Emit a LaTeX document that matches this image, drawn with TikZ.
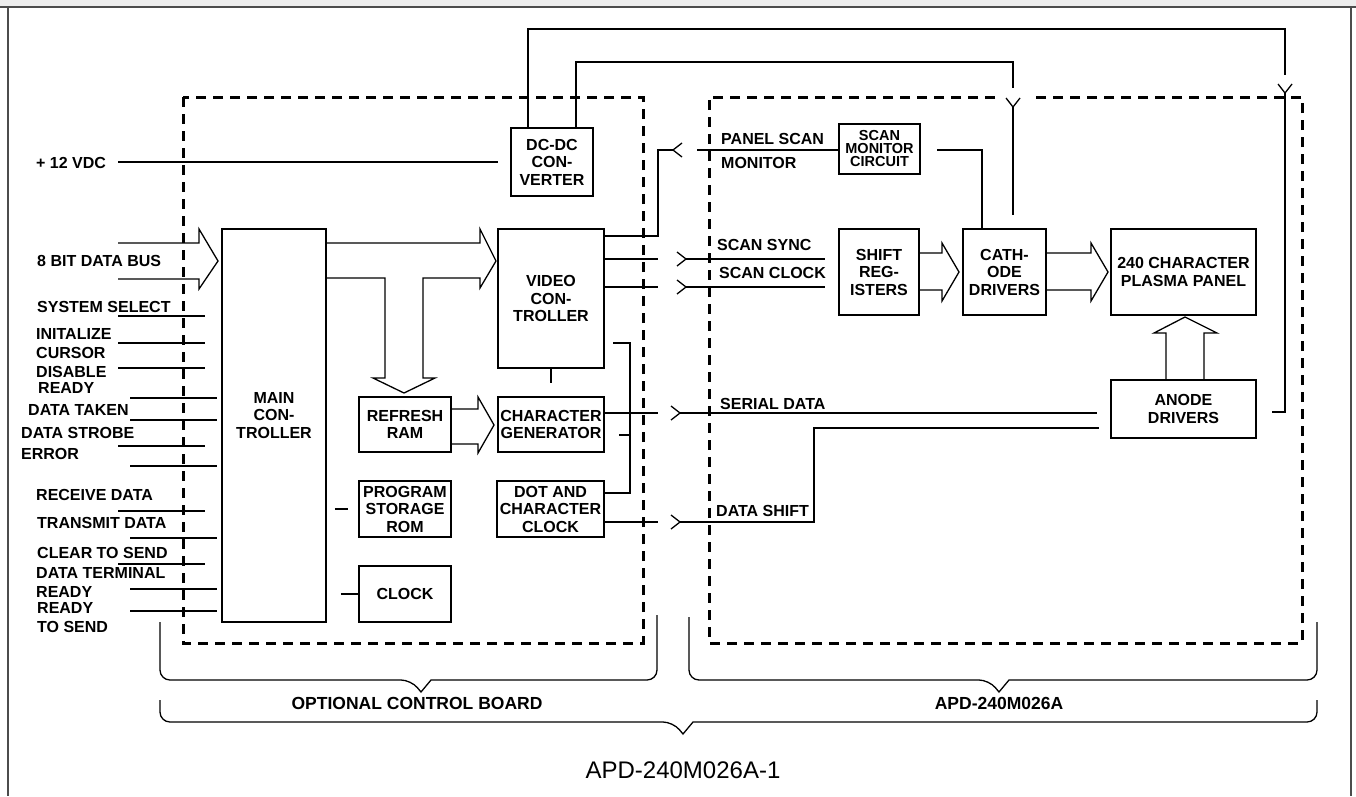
\documentclass[tikz,border=0pt]{standalone}
\usepackage{fontspec}
\setmainfont{Liberation Sans}
\newcommand{\lbl}{\fontsize{16}{17.5}\selectfont\bfseries}

\begin{document}
\begin{tikzpicture}[line join=miter,x=1pt,y=-1pt,
  box/.style={draw,line width=2.4pt,inner sep=0pt,align=center,font=\lbl},
  txt/.style={inner sep=0pt,anchor=west,font=\lbl},
  wire/.style={line width=1.3pt},
  fat/.style={line width=1.3pt},
  dashbox/.style={line width=3pt,dash pattern=on 10pt off 7pt},
  brace/.style={line width=1.3pt,rounded corners=10pt},
  jack/.pic={\draw[wire] (-9,-7) -- (0,0) -- (-9,7);}]
\useasboundingbox (0,0) rectangle (1356,796);
\fill[black!7] (0,0) rectangle (1356,6);
\draw[line width=2pt,black!70] (0,6.5) -- (1356,6.5);
\draw[line width=1.5pt,black!70] (8,7) -- (8,796);
\draw[line width=1.5pt,black!70] (1351,7) -- (1351,796);

\draw[dashbox] (183,97) rectangle (643,643);
\draw[dashbox] (995,97) -- (709,97) -- (709,643) -- (1302,643) -- (1302,97) -- (1031,97);

\node[box,minimum width=82pt,minimum height=68pt] (dcdc) at (552,162) {DC-DC\\CON-\\VERTER};
\node[box,minimum width=104pt,minimum height=393pt,
  label={[font=\lbl,align=center,yshift=10pt]center:{MAIN\\CON-\\TROLLER}}] (mainc) at (274,425.5) {};
\node[box,minimum width=106pt,minimum height=139pt] (video) at (551,298.5) {VIDEO\\CON-\\TROLLER};
\node[box,minimum width=106pt,minimum height=55pt] (chargen) at (551,424.5) {CHARACTER\\GENERATOR};
\node[box,minimum width=107pt,minimum height=56pt] (dotclk) at (550.5,509) {DOT AND\\CHARACTER\\CLOCK};
\node[box,minimum width=92pt,minimum height=55pt] (refresh) at (405,424.5) {REFRESH\\RAM};
\node[box,minimum width=92pt,minimum height=56pt] (prom) at (405,509) {PROGRAM\\STORAGE\\ROM};
\node[box,minimum width=92pt,minimum height=56pt] (clock) at (405,594) {CLOCK};
\node[box,minimum width=81pt,minimum height=50pt,font=\fontsize{14.5}{13}\selectfont\bfseries] (scanmon) at (879.5,149) {SCAN\\MONITOR\\CIRCUIT};
\node[box,minimum width=80pt,minimum height=86pt] (shift) at (879,272) {SHIFT\\REG-\\ISTERS};
\node[box,minimum width=83pt,minimum height=86pt] (cathode) at (1004.5,272) {CATH-\\ODE\\DRIVERS};
\node[box,minimum width=145pt,minimum height=86pt] (plasma) at (1183.5,272) {240 CHARACTER\\PLASMA PANEL};
\node[box,minimum width=145pt,minimum height=58pt] (anode) at (1183.5,409) {ANODE\\DRIVERS};

\foreach \x/\y/\t [count=\i] in {36/163/{+ 12 VDC},37/261/{8 BIT DATA BUS},37/307/{SYSTEM SELECT},
  36/334/INITALIZE,36/353/CURSOR,36/372/DISABLE,38/388/READY,28/410/{DATA TAKEN},
  21/433/{DATA STROBE},21/454/ERROR,36/495/{RECEIVE DATA},37/523/{TRANSMIT DATA},
  37/553/{CLEAR TO SEND},36/573/{DATA TERMINAL},36/592/READY,37/608/READY,37/627/{TO SEND},
  721/139/{PANEL SCAN},721/163/MONITOR,717/245/{SCAN SYNC},719/273/{SCAN CLOCK},
  720/404/{SERIAL DATA},716/511/{DATA SHIFT}}
  \node[txt] (lab\i) at (\x,\y) {\t};

\foreach \xa/\xb/\y in {118/205/316,118/205/343,118/205/368,130/217/398,130/217/420,118/205/446,
  130/217/466,118/205/511,130/217/538,118/205/564,130/217/589,130/217/611}
  \draw[wire] (\xa,\y) -- (\xb,\y);

\draw[fat] (118,243) -- (199,243) -- (199,229) -- (218,261) -- (199,289) -- (199,279) -- (118,279);
\draw[fat] (mainc.east |- 0,243) -- (480,243) -- (480,229) -- (496,261) -- (480,288) -- (480,278)
  -- (423,278) -- (423,378) -- (435,378) -- (404,393) -- (373,378) -- (385,378) -- (385,278)
  -- (mainc.east |- 0,278);
\draw[fat] (refresh.east |- 0,409) -- (478,409) -- (478,397) -- (494,425) -- (478,453) -- (478,444)
  -- (refresh.east |- 0,444);
\draw[fat] (shift.east |- 0,253) -- (942,253) -- (942,243) -- (959,272) -- (942,301) -- (942,290)
  -- (shift.east |- 0,290);
\draw[fat] (cathode.east |- 0,253) -- (1091,253) -- (1091,243) -- (1108,272) -- (1091,301) -- (1091,290)
  -- (cathode.east |- 0,290);
\draw[fat] (1166,0 |- anode.north) -- (1166,333) -- (1154,333) -- (1185,317) -- (1217,333) -- (1204,333)
  -- (1204,0 |- anode.north);

\coordinate (vdc) at (118,162);
\draw[wire] (vdc) -- ([xshift=-12pt]dcdc.west);
\draw[wire] ([xshift=-24pt]dcdc.north) |- (1285,29) -- (1285,75);
\pic[rotate=-90] at (1285,93) {jack};
\draw[wire] (1285,93) |- ([xshift=15pt]anode.east |- 0,412);
\draw[wire] ([xshift=24pt]dcdc.north) |- (1013,62) -- (1013,88);
\pic[rotate=-90] at (1013,107) {jack};
\draw[wire] (1013,107) -- ([yshift=13pt]cathode.north -| 1013,0);

\draw[wire] (video.east |- 0,236) -| (658,150) -- (673,150);
\pic[rotate=180] at (673,150) {jack};
\draw[wire] (697,150) -- (scanmon.west |- 0,150);
\draw[wire] ([xshift=16pt]scanmon.east |- 0,150) -| ([xshift=-22.5pt]cathode.north);

\foreach \y in {259,287}{
  \draw[wire] (video.east |- 0,\y) -- (658,\y);
  \pic at (686,\y) {jack};
  \draw[wire] (686,\y) -- ([xshift=-13pt]shift.west |- 0,\y);
}
\draw[wire] (chargen.east |- 0,413) -- (658,413);
\pic at (680,413) {jack};
\draw[wire] (680,413) -- ([xshift=-13pt]anode.west |- 0,413);
\draw[wire] (dotclk.east |- 0,522) -- (658,522);
\pic at (680,522) {jack};
\draw[wire] (680,522) -| (814,428) -- ([xshift=-11pt]anode.west |- 0,428);

\draw[wire] (613,343) -| (630,493) -- (dotclk.east |- 0,493);
\draw[wire] (619,435) -- (630,435);
\draw[wire] (video.south) -- ++(0,14);
\draw[wire] ([xshift=-23pt]prom.west) -- ([xshift=-10pt]prom.west);
\draw[wire] ([xshift=-17pt]clock.west) -- (clock.west);

\draw[brace] (160,622) |- (411,680) [sharp corners] -- (421,692) -- (431,680) [rounded corners=10pt] -| (657,615);
\draw[brace] (689,617) |- (989,680) [sharp corners] -- (999,692) -- (1009,680) [rounded corners=10pt] -| (1317,622);
\draw[brace] (160,700) |- (673,722) [sharp corners] -- (683,734) -- (693,722) [rounded corners=10pt] -| (1317,700);
\node[font=\fontsize{17.5}{20}\selectfont\bfseries] (board) at (417,703) {OPTIONAL CONTROL BOARD};
\node[font=\fontsize{17.5}{20}\selectfont\bfseries] (panel) at (999,703) {APD-240M026A};
\node[font=\fontsize{24}{24}\selectfont] (fig) at (683,770) {APD-240M026A-1};
\end{tikzpicture}
\end{document}
